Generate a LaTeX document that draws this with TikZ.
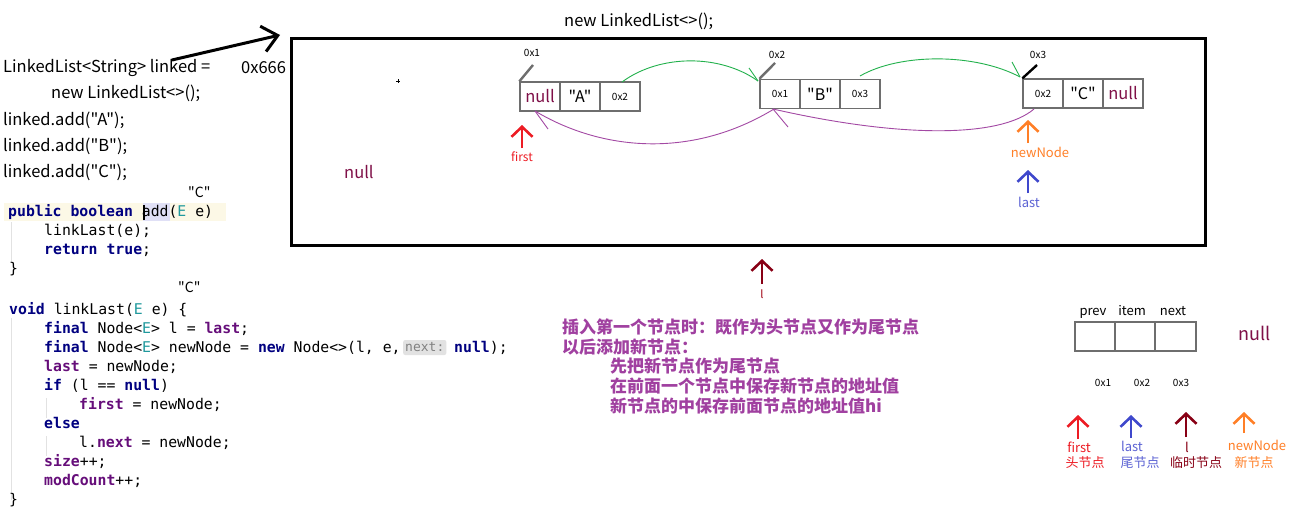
\documentclass[tikz,border=0pt]{standalone}
\usepackage{fontspec}
\setmainfont{Noto Sans CJK SC}
\setmonofont{DejaVu Sans Mono}
\newfontfamily\cjk{Noto Sans CJK SC}
\usetikzlibrary{arrows.meta}
\definecolor{kwc}{HTML}{000080}
\definecolor{fdc}{HTML}{660E7A}
\definecolor{tyc}{HTML}{20999D}
\definecolor{nullc}{HTML}{7F1048}
\definecolor{grn}{HTML}{22B14C}
\definecolor{prp}{HTML}{A349A4}
\definecolor{txtp}{HTML}{A040A0}
\definecolor{myred}{HTML}{ED1C24}
\definecolor{myorange}{HTML}{FF7F27}
\definecolor{myblue}{HTML}{3F48CC}
\definecolor{mydark}{HTML}{880015}
\definecolor{cellgray}{HTML}{6E6E6E}
\definecolor{ybg}{HTML}{FCF8E6}
\definecolor{lav}{HTML}{E0E0F6}
\definecolor{guide}{HTML}{E2E2E2}
\newcommand\myfs[1]{\fontsize{#1}{#1}\selectfont}
\newcommand\kw[1]{\textbf{\textcolor{kwc}{#1}}}
\newcommand\fd[1]{\textbf{\textcolor{fdc}{#1}}}
\newcommand\ty[1]{\textcolor{tyc}{#1}}
\begin{document}
\begin{tikzpicture}[x=1pt,y=-1pt,
  txt/.style={anchor=base west, inner sep=0pt, font=\cjk\myfs{16.5}},
  code/.style={anchor=base west, inner sep=0pt, font=\ttfamily\myfs{14.8}},
  cell/.style={draw=cellgray, line width=1.3pt, minimum width=40pt, minimum height=29pt, inner sep=0pt, font=\cjk},
  small/.style={inner sep=0pt, font=\cjk\myfs{10}},
  tick/.style={line width=2.4pt, cellgray},
  uparr/.style={line width=2.6pt, -{Straight Barb[length=10pt,width=21pt]}},
  cjktxt/.style={anchor=west, inner sep=0pt, font=\cjk\bfseries\myfs{17}, text=txtp},
  lbl/.style={inner sep=0pt, font=\cjk\myfs{13}}
]
\useasboundingbox (0,0) rectangle (1314,514);
\fill[white] (0,0) rectangle (1314,514);

% ---------- left text ----------
\node[txt] (t1) at (3,72) {LinkedList<String> linked =};
\node[txt] (t2) at (51,98) {new LinkedList<>();};
\node[txt] (t3) at (3,125) {linked.add("A");};
\node[txt] (t4) at (3,151) {linked.add("B");};
\node[txt] (t5) at (3,177) {linked.add("C");};
\node[txt] (topt) at (564,27) {new LinkedList<>();};
\node[txt] (addr) at (241,73) {0x666};
\node[anchor=base west, inner sep=0pt, font=\cjk\myfs{14}] (c1q) at (188,197) {"C"};
\node[anchor=base west, inner sep=0pt, font=\cjk\myfs{14}] (c2q) at (178,292) {"C"};

% ---------- code ----------
\fill[ybg] (4,203) rectangle (226,221);
\fill[lav] (143,203) rectangle (170,221);
\fill[black] (142.5,205) rectangle (144.5,220);
\draw[guide, line width=0.8pt] (11,222) -- (11,262);
\draw[guide, line width=0.8pt] (11,318) -- (11,500);
\draw[guide, line width=0.8pt] (46,398) -- (46,418);
\draw[guide, line width=0.8pt] (46,436) -- (46,456);
\node[code] (k1) at (8,216) {\kw{public boolean} add(\ty{E} e)};
\node[code] (k2) at (44,235) {linkLast(e);};
\node[code] (k3) at (44,254) {\kw{return true};};
\node[code] (k4) at (9,273) {\}};
\node[code] (k5) at (9,314) {\kw{void} linkLast(\ty{E} e) \{};
\node[code] (k6) at (44,333) {\kw{final} Node<\ty{E}> l = \fd{last};};
\node[code] (k7) at (44,352) {\kw{final} Node<\ty{E}> newNode = \kw{new} Node<>(l, e,};
\node[anchor=west, fill=guide, rounded corners=2pt, inner xsep=2pt, inner ysep=1pt, minimum height=15pt, text=gray, font=\ttfamily\myfs{13}] (hint) at (403,347.5) {next:};
\node[code] (k7b) at (454,352) {\kw{null});};
\node[code] (k8) at (44,371) {\fd{last} = newNode;};
\node[code] (k9) at (44,390) {\kw{if} (l == \kw{null})};
\node[code] (k10) at (79,409) {\fd{first} = newNode;};
\node[code] (k11) at (44,428) {\kw{else}};
\node[code] (k12) at (79,447) {l.\fd{next} = newNode;};
\node[code] (k13) at (44,466) {\fd{size}++;};
\node[code] (k14) at (44,485) {\fd{modCount}++;};
\node[code] (k15) at (9,504) {\}};

% ---------- big box ----------
\draw[line width=3pt] (291,38.5) rectangle (1205,245);
\coordinate (lkstart) at (172,60);
\coordinate (boxtip) at (280,35);
\draw[line width=3pt, -{Straight Barb[length=15pt,width=26pt]}] (lkstart) -- (boxtip);
\node[txt, text=nullc] (nullbox) at (344,178) {null};
\draw[line width=0.8pt] (396,81) -- (400,81) (398,79) -- (398,83);

% node A
\node[cell] (a1) at (540,96.5) {\myfs{16.5}\textcolor{nullc}{null}};
\node[cell] (a2) at (580,96.5) {\myfs{16}"A"};
\node[cell] (a3) at (620,96.5) {\myfs{10}0x2};
% node B
\node[cell] (b1) at (780,94) {\myfs{10}0x1};
\node[cell] (b2) at (820,94) {\myfs{16}"B"};
\node[cell] (b3) at (860,94) {\myfs{10}0x3};
% node C
\node[cell] (c1) at (1043,93.5) {\myfs{10}0x2};
\node[cell] (c2) at (1083,93.5) {\myfs{16}"C"};
\node[cell] (c3) at (1123,93.5) {\myfs{16.5}\textcolor{nullc}{null}};

% address ticks
\coordinate (ta) at (533,65);
\coordinate (tb) at (775,63);
\coordinate (tc) at (1037,65);
\draw[tick] (a1.north west) -- (ta);
\draw[tick] (b1.north west) -- (tb);
\draw[tick, black] (c1.north west) -- (tc);
\node[small] (la) at (532,53) {0x1};
\node[small] (lb) at (777,55) {0x2};
\node[small] (lc) at (1038,55) {0x3};

% green next links
\coordinate (g1s) at (622,82);
\coordinate (g1e) at (758,81);
\coordinate (g1b) at (749,68);
\draw[grn, line width=0.9pt] (g1s) .. controls (660,54) and (720,54) .. (g1e);
\draw[grn, line width=0.9pt] (g1b) -- (g1e);
\coordinate (g2s) at (860,76);
\coordinate (g2e) at (1020,77);
\coordinate (g2b) at (1012,62);
\draw[grn, line width=0.9pt] (g2s) .. controls (900,53) and (975,53) .. (g2e);
\draw[grn, line width=0.9pt] (g2b) -- (g2e);

% purple prev links
\coordinate (p1s) at (774,109);
\coordinate (p1e) at (535,111);
\coordinate (p1b) at (548,129);
\draw[prp, line width=0.9pt] (p1s) .. controls (690,160) and (600,150) .. (p1e);
\draw[prp, line width=0.9pt] (p1b) -- (p1e);
\coordinate (p2s) at (1034,109);
\coordinate (p2e) at (773,109);
\coordinate (p2b) at (788,127);
\draw[prp, line width=0.9pt] (p2s) .. controls (1000,138) and (900,138) .. (p2e);
\draw[prp, line width=0.9pt] (p2b) -- (p2e);

% pointers in box
\coordinate (fb) at (522,148); \coordinate (ft) at (522,125);
\draw[uparr, myred] (fb) -- (ft);
\node[lbl, text=myred, font=\cjk\myfs{12}] (firstl) at (522,157) {first};
\coordinate (nb) at (1028,143); \coordinate (nt) at (1028,120);
\draw[uparr, myorange] (nb) -- (nt);
\node[lbl, text=myorange] (newl) at (1040,152) {newNode};
\coordinate (lab) at (1028,193); \coordinate (lat) at (1028,170);
\draw[uparr, myblue] (lab) -- (lat);
\node[lbl, text=myblue!85!white] (lastl) at (1029,202) {last};

% l pointer
\coordinate (lb1) at (762,284); \coordinate (lt1) at (762,259);
\draw[uparr, mydark] (lb1) -- (lt1);
\node[lbl, text=mydark!80!red, font=\cjk\myfs{11}] (ll) at (762,294) {l};

% ---------- Chinese notes ----------
\node[cjktxt] (n1) at (562,327) {插入第一个节点时：既作为头节点又作为尾节点};
\node[cjktxt] (n2) at (562,347) {以后添加新节点：};
\node[cjktxt] (n3) at (610,366.5) {先把新节点作为尾节点};
\node[cjktxt] (n4) at (610,386) {在前面一个节点中保存新节点的地址值};
\node[cjktxt] (n5) at (610,405.5) {新节点的中保存前面节点的地址值hi};

% ---------- legend ----------
\node[cell] (l1) at (1095,336.5) {};
\node[cell] (l2) at (1135,336.5) {};
\node[cell, minimum width=41pt] (l3) at (1175.5,336.5) {};
\node[lbl] (prevl) at (1093,313) {prev};
\node[lbl] (iteml) at (1132,311) {item};
\node[lbl] (nextl) at (1173,311) {next};
\node[inner sep=0pt, font=\cjk\myfs{18}, text=nullc] (nulll) at (1255,333) {null};
\node[small] (x1) at (1103,383) {0x1};
\node[small] (x2) at (1142,383) {0x2};
\node[small] (x3) at (1181,383) {0x3};

\coordinate (r1b) at (1078,439); \coordinate (r1t) at (1078,415);
\draw[uparr, myred] (r1b) -- (r1t);
\coordinate (r2b) at (1131,438); \coordinate (r2t) at (1131,415);
\draw[uparr, myblue] (r2b) -- (r2t);
\coordinate (r3b) at (1186,437); \coordinate (r3t) at (1186,412);
\draw[uparr, mydark] (r3b) -- (r3t);
\coordinate (r4b) at (1244,433); \coordinate (r4t) at (1244,412);
\draw[uparr, myorange] (r4b) -- (r4t);
\node[lbl, text=myred] (lf) at (1079,447) {first};
\node[lbl, text=myblue!85!white] (lla) at (1132,446) {last};
\node[lbl, text=mydark] (lll) at (1187,447) {l};
\node[lbl, text=myorange] (lnn) at (1257,445) {newNode};
\node[lbl, text=myred] (cf) at (1085,463) {头节点};
\node[lbl, text=myblue!85!white] (cl) at (1140,463) {尾节点};
\node[lbl, text=mydark] (ct) at (1196,463) {临时节点};
\node[lbl, text=myorange] (cn) at (1254,463) {新节点};
\end{tikzpicture}
\end{document}
